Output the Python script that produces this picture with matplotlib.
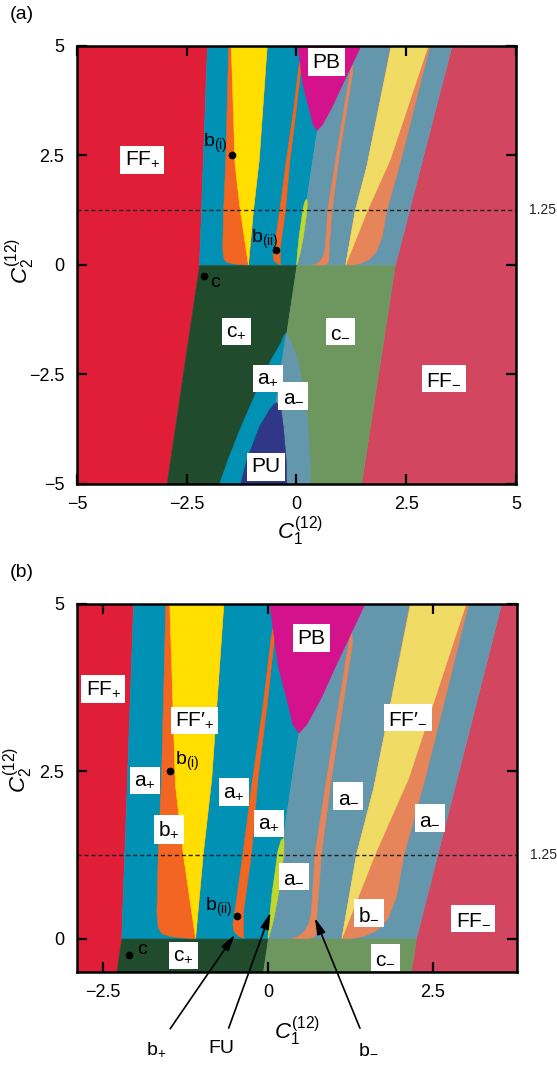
import matplotlib.pyplot as plt

plt.rcParams['font.family'] = ['Liberation Sans', 'DejaVu Sans']
plt.rcParams['mathtext.fontset'] = 'custom'
plt.rcParams['mathtext.rm'] = 'Liberation Sans'
plt.rcParams['mathtext.it'] = 'Liberation Sans:italic'
plt.rcParams['mathtext.bf'] = 'Liberation Sans:bold'

# straight boundaries, C1 read at C2 = -5, 0, 5
edge_c2 = [-5.0, 0.0, 5.0]
ff_plus_edge = [-2.96, -2.22, -2.04]
pm_split = [-0.75, 0.0, 0.75]
ff_minus_edge = [1.47, 2.24, 3.53]

# islands in the upper half (outlines as C1 / C2 vertices)
b_plus_c1 = [-1.545, -1.61, -1.66, -1.68, -1.66, -1.60, -1.48, -1.30, -1.095, -0.98, -0.85, -0.667]
b_plus_c2 = [5.0, 2.39, 1.25, 0.40, 0.16, 0.07, 0.03, 0.01, 0.0, 1.25, 2.39, 5.0]

ffp_prime_c1 = [-1.485, -1.40, -1.28, -1.095, -0.98, -0.85, -0.667]
ffp_prime_c2 = [5.0, 2.3, 1.25, 0.0, 1.25, 2.39, 5.0]

b_plus_thin_c1 = [0.09, 0.05, -0.07, -0.23, -0.38, -0.50, -0.53, -0.51, -0.46, -0.41, -0.37,
                  -0.37, -0.25, -0.15, -0.01, 0.10]
b_plus_thin_c2 = [4.7, 4.5, 3.5, 2.39, 1.25, 0.40, 0.20, 0.10, 0.05, 0.02, 0.0,
                  0.40, 1.25, 2.39, 3.5, 4.5]

b_minus_thin_c1 = [1.27, 1.22, 0.89, 0.71, 0.66, 0.62, 0.55, 0.46, 0.36,
                   0.62, 0.70, 0.735, 0.745, 0.81, 0.96, 1.28]
b_minus_thin_c2 = [4.6, 4.4, 2.39, 1.25, 0.40, 0.22, 0.10, 0.03, 0.0,
                   0.0, 0.02, 0.08, 0.40, 1.25, 2.39, 4.4]

b_minus_c1 = [1.12, 1.34, 1.60, 2.15, 3.04, 2.38, 2.06, 1.95, 1.82, 1.65, 1.45, 1.25]
b_minus_c2 = [0.0, 1.25, 2.24, 5.0, 5.0, 2.39, 1.25, 0.64, 0.30, 0.12, 0.03, 0.0]

ffm_prime_c1 = [1.12, 1.34, 1.60, 2.16, 3.00, 2.13, 1.62, 1.12]
ffm_prime_c2 = [0.0, 1.25, 2.24, 5.0, 5.0, 2.39, 1.25, 0.0]

pb_c1 = [0.03, 0.15, 0.28, 0.38, 0.47, 0.59, 0.81, 1.04, 1.47]
pb_c2 = [5.0, 4.1, 3.6, 3.2, 3.07, 3.2, 3.6, 4.1, 5.0]

fu_c1 = [0.0, 0.03, 0.06, 0.11, 0.15, 0.20, 0.24, 0.245, 0.24, 0.20, 0.155, 0.09, 0.02]
fu_c2 = [0.0, 0.35, 0.65, 1.0, 1.3, 1.47, 1.50, 1.4, 1.25, 0.95, 0.64, 0.3, 0.03]

# lower half: the a-region (split into + and -) and PU
a_low_c2 = [-1.56, -1.62, -1.79, -2.17, -2.93, -3.69, -4.45, -5.0]
a_low_left = [-0.235, -0.29, -0.36, -0.58, -0.93, -1.26, -1.56, -1.75]
a_low_right = [-0.235, -0.18, -0.11, 0.03, 0.18, 0.27, 0.31, 0.32]

pu_c2 = [-3.14, -3.2, -3.31, -3.69, -4.45, -5.0]
pu_left = [-0.46, -0.53, -0.615, -0.84, -1.13, -1.27]
pu_right = [-0.46, -0.40, -0.35, -0.30, -0.235, -0.22]

colors = {
    'FF+': '#e11e37', 'FF-': '#d3465f',
    'a+': '#0091b4', 'a-': '#6496ac',
    'b+': '#f26522', 'b-': '#e6845a',
    "FF'+": '#ffde00', "FF'-": '#f0dc64',
    'c+': '#204b2d', 'c-': '#6e965f',
    'PB': '#d4128c', 'PU': '#303787', 'FU': '#c0d72d',
}

# marked points
point_c1 = [-2.10, -1.48, -0.47]
point_c2 = [-0.25, 2.50, 0.33]
point_names = ['c', r'b$_{\mathrm{(i)}}$', r'b$_{\mathrm{(ii)}}$']

# region labels
labels_a = [('FF$_{+}$', -3.51, 2.40), ('PB', 0.68, 4.63), ('c$_{+}$', -1.37, -1.52),
            ('c$_{-}$', 1.0, -1.52), ('a$_{+}$', -0.66, -2.59), ('a$_{-}$', -0.07, -2.99),
            ('PU', -0.69, -4.61), ('FF$_{-}$', 3.36, -2.59)]
labels_b = [('FF$_{+}$', -2.49, 3.73), ('PB', 0.66, 4.49), ("FF′$_{+}$", -1.11, 3.26),
            ("FF′$_{-}$", 2.12, 3.30), ('a$_{+}$', -1.86, 2.36), ('a$_{+}$', -0.51, 2.19),
            ('a$_{+}$', 0.01, 1.72), ('b$_{+}$', -1.50, 1.63), ('a$_{-}$', 1.22, 2.13),
            ('a$_{-}$', 2.45, 1.80), ('a$_{-}$', 0.40, 0.93), ('b$_{-}$', 1.53, 0.38),
            ('FF$_{-}$', 3.11, 0.30), ('c$_{+}$', -1.28, -0.25), ('c$_{-}$', 1.78, -0.28)]
point_text_a = [(-1.86, -0.41), (-1.86, 2.77), (-0.73, 0.59)]
point_text_b = [(-1.91, -0.17), (-1.22, 2.64), (-0.75, 0.47)]

arrow_names = ['b$_{+}$', 'FU', 'b$_{-}$']
arrow_tip_c1 = [-0.50, 0.04, 0.71]
arrow_tip_c2 = [0.06, 0.39, 0.31]

dashed_c2 = 1.25


def patch(ax, xs, ys, key):
    ax.fill(xs, ys, facecolor=colors[key], edgecolor=colors[key], lw=0.4)


def draw_regions(ax, x_lo, x_hi):
    band = dict(lw=0.4)
    ax.fill_betweenx(edge_c2, x_lo, ff_plus_edge, color=colors['FF+'], **band)
    ax.fill_betweenx(edge_c2, ff_minus_edge, x_hi, color=colors['FF-'], **band)
    ax.fill_betweenx(edge_c2[1:], ff_plus_edge[1:], pm_split[1:], color=colors['a+'], **band)
    ax.fill_betweenx(edge_c2[1:], pm_split[1:], ff_minus_edge[1:], color=colors['a-'], **band)
    ax.fill_betweenx(edge_c2[:2], ff_plus_edge[:2], pm_split[:2], color=colors['c+'], **band)
    ax.fill_betweenx(edge_c2[:2], pm_split[:2], ff_minus_edge[:2], color=colors['c-'], **band)

    patch(ax, b_plus_c1, b_plus_c2, 'b+')
    patch(ax, ffp_prime_c1, ffp_prime_c2, "FF'+")
    patch(ax, b_plus_thin_c1, b_plus_thin_c2, 'b+')
    patch(ax, b_minus_thin_c1, b_minus_thin_c2, 'b-')
    patch(ax, pb_c1, pb_c2, 'PB')
    patch(ax, fu_c1, fu_c2, 'FU')
    patch(ax, b_minus_c1, b_minus_c2, 'b-')
    patch(ax, ffm_prime_c1, ffm_prime_c2, "FF'-")

    patch(ax, a_low_left + [pm_split[0]], a_low_c2 + [edge_c2[0]], 'a+')
    patch(ax, a_low_right + [pm_split[0]], a_low_c2 + [edge_c2[0]], 'a-')
    patch(ax, pu_left + pu_right[::-1], pu_c2 + pu_c2[::-1], 'PU')

    ax.axhline(dashed_c2, color='#222222', lw=1.0, ls=(0, (3, 2)))
    ax.plot(point_c1, point_c2, 'o', color='k', ms=4.5)


def style(ax, ticks, ticklabels, yticks, yticklabels):
    ax.set_xticks(ticks)
    ax.set_xticklabels(ticklabels)
    ax.set_yticks(yticks)
    ax.set_yticklabels(yticklabels)
    ax.tick_params(direction='in', length=7, width=1.6, top=True, right=True,
                   labelsize=13, pad=9)
    for sp in ax.spines.values():
        sp.set_linewidth(1.8)
    ax.set_xlabel(r'$C^{(12)}_{1}$', fontsize=16)
    ax.set_ylabel(r'$C^{(12)}_{2}$', fontsize=16)
    ax.text(1.06, dashed_c2, '1.25', transform=ax.get_yaxis_transform(),
            ha='center', va='center', fontsize=10, color='#222222')


def put_labels(ax, labels, point_text):
    box = dict(boxstyle='square,pad=0.2', facecolor='white', edgecolor='none')
    for txt, x, y in labels:
        ax.text(x, y, txt, ha='center', va='center', fontsize=15, bbox=box, zorder=5)
    for name, (x, y) in zip(point_names, point_text):
        ax.text(x, y, name, ha='center', va='center', fontsize=14, zorder=5)


fig = plt.figure(figsize=(5.57, 10.66), dpi=100)
ax_a = fig.add_axes([0.1382, 0.5460, 0.7882, 0.4109])
ax_b = fig.add_axes([0.1382, 0.0882, 0.7899, 0.3452])

# (a) full range
draw_regions(ax_a, -5, 5)
ax_a.set_xlim(-5, 5)
ax_a.set_ylim(-5, 5)
style(ax_a, [-5, -2.5, 0, 2.5, 5], ['−5', '−2.5', '0', '2.5', '5'],
      [-5, -2.5, 0, 2.5, 5], ['−5', '−2.5', '0', '2.5', '5'])
ax_a.xaxis.set_label_coords(0.508, -0.07)
ax_a.yaxis.set_label_coords(-0.09, 0.51)
put_labels(ax_a, labels_a, point_text_a)

# (b) zoom
draw_regions(ax_b, -5, 5)
ax_b.set_xlim(-2.89, 3.77)
ax_b.set_ylim(-0.5, 5)
style(ax_b, [-2.5, 0, 2.5], ['−2.5', '0', '2.5'], [0, 2.5, 5], ['0', '2.5', '5'])
ax_b.xaxis.set_label_coords(0.5, -0.115)
ax_b.yaxis.set_label_coords(-0.095, 0.55)
put_labels(ax_b, labels_b, point_text_b)

text_pos = [(0.181, -0.208), (0.328, -0.208), (0.662, -0.208)]
for name, x, y, pos in zip(arrow_names, arrow_tip_c1, arrow_tip_c2, text_pos):
    ax_b.annotate(name, xy=(x, y), xycoords='data', xytext=pos, textcoords='axes fraction',
                  ha='center', va='center', fontsize=14, annotation_clip=False,
                  arrowprops=dict(arrowstyle='-|>,head_length=0.7,head_width=0.18',
                                  color='k', lw=1.2, shrinkA=7, shrinkB=0))

fig.text(0.018, 0.986, '(a)', fontsize=14, ha='left', va='center')
fig.text(0.018, 0.463, '(b)', fontsize=14, ha='left', va='center')

fig.savefig('out.png', dpi=100)
